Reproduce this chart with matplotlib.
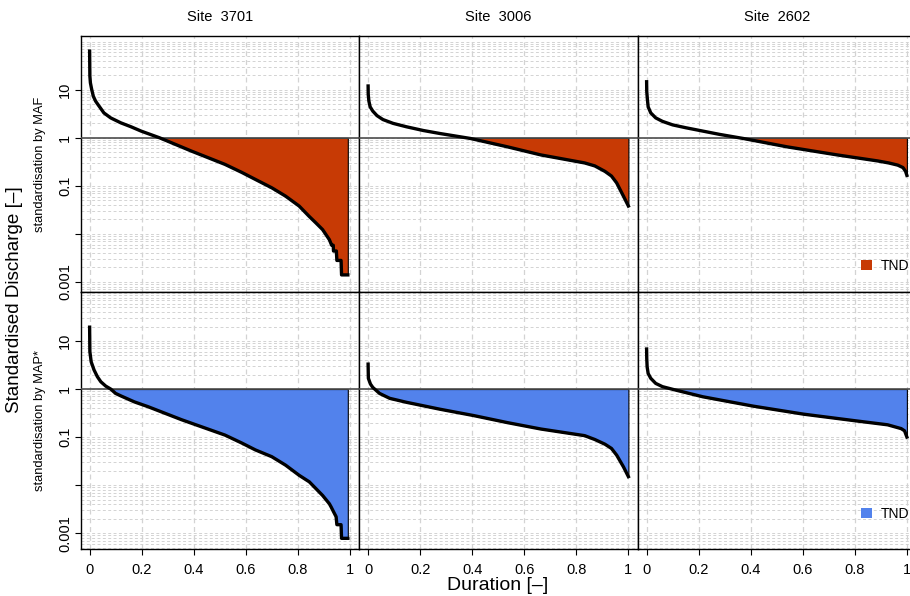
import numpy as np
import matplotlib
matplotlib.use('Agg')
import matplotlib.pyplot as plt
from matplotlib.ticker import LogLocator, FixedLocator, NullFormatter
from matplotlib.patches import Patch

plt.rcParams['font.family'] = ['Liberation Sans', 'DejaVu Sans']

sites = ['3701', '3006', '2602']
row_labels = ['standardisation by MAF', 'standardisation by MAP*']
fill_colors = ['#C73A05', '#5282EC']
legend_label = 'TND'

y_ticks = [0.001, 0.01, 0.1, 1, 10]
y_tick_labels = ['0.001', '', '0.1', '1', '10']
x_ticks = [0, 0.2, 0.4, 0.6, 0.8, 1]
x_tick_labels = ['0', '0.2', '0.4', '0.6', '0.8', '1']

# flow duration curves (duration, standardised discharge)
maf_3701_x = [0, 0.001, 0.003, 0.008, 0.014, 0.023, 0.036, 0.055, 0.081, 0.12, 0.159, 0.198,
              0.269, 0.391, 0.52, 0.585, 0.637, 0.70, 0.753, 0.805, 0.844, 0.869, 0.895,
              0.921, 0.930, 0.936, 0.937, 0.948, 0.950, 0.966, 0.968, 0.992]
maf_3701_y = [64, 19.4, 14, 10.2, 7.4, 5.8, 4.6, 3.3, 2.6, 2.05, 1.7, 1.38,
              1.0, 0.53, 0.28, 0.19, 0.136, 0.091, 0.061, 0.038, 0.023, 0.017, 0.0123,
              0.0076, 0.0058, 0.0058, 0.0044, 0.0044, 0.0028, 0.0028, 0.0014, 0.0014]

maf_3006_x = [0, 0.0005, 0.003, 0.008, 0.018, 0.034, 0.057, 0.096, 0.147, 0.212, 0.276, 0.393,
              0.535, 0.664, 0.832, 0.871, 0.91, 0.935, 0.955, 0.981, 1.0]
maf_3006_y = [12, 8, 5.8, 4.4, 3.6, 2.9, 2.4, 2.0, 1.7, 1.42, 1.23, 0.97,
              0.65, 0.44, 0.30, 0.26, 0.20, 0.16, 0.115, 0.061, 0.038]

maf_2602_x = [0, 0.0005, 0.003, 0.006, 0.016, 0.035, 0.061, 0.1, 0.151, 0.28, 0.371, 0.539,
              0.733, 0.888, 0.93, 0.965, 0.985, 0.995, 1.0]
maf_2602_y = [14.7, 9.4, 6.3, 4.4, 3.3, 2.6, 2.2, 1.86, 1.62, 1.18, 0.97, 0.65,
              0.44, 0.33, 0.30, 0.27, 0.24, 0.20, 0.165]

map_3701_x = [0, 0.0005, 0.001, 0.006, 0.017, 0.03, 0.043, 0.062, 0.081, 0.1, 0.12, 0.172,
              0.224, 0.353, 0.52, 0.585, 0.637, 0.70, 0.753, 0.805, 0.844, 0.869, 0.895,
              0.921, 0.928, 0.937, 0.947, 0.950, 0.966, 0.968, 0.992]
map_3701_y = [19.4, 10.5, 6.0, 3.7, 2.5, 1.8, 1.42, 1.15, 1.0, 0.81, 0.72, 0.54,
              0.43, 0.23, 0.11, 0.075, 0.054, 0.039, 0.026, 0.016, 0.0117, 0.0085, 0.0061,
              0.0041, 0.0035, 0.0028, 0.0022, 0.0015, 0.0015, 0.00078, 0.00078]

map_3006_x = [0, 0.0005, 0.001, 0.009, 0.018, 0.044, 0.083, 0.147, 0.276, 0.406, 0.535, 0.664,
              0.832, 0.871, 0.91, 0.935, 0.955, 0.981, 1.0]
map_3006_y = [3.3, 2.3, 1.67, 1.27, 1.08, 0.81, 0.64, 0.53, 0.38, 0.28, 0.20, 0.147,
              0.107, 0.089, 0.071, 0.058, 0.042, 0.024, 0.015]

map_2602_x = [0, 0.0005, 0.002, 0.006, 0.016, 0.035, 0.061, 0.112, 0.216, 0.41, 0.603, 0.797,
              0.926, 0.978, 0.991, 1.0]
map_2602_y = [6.8, 4.4, 2.9, 2.1, 1.67, 1.31, 1.12, 0.95, 0.69, 0.44, 0.30, 0.22,
              0.18, 0.15, 0.135, 0.10]

curves = [
    [(maf_3701_x, maf_3701_y), (maf_3006_x, maf_3006_y), (maf_2602_x, maf_2602_y)],
    [(map_3701_x, map_3701_y), (map_3006_x, map_3006_y), (map_2602_x, map_2602_y)],
]
row_ylims = [(10 ** -3.21, 10 ** 2.12), (10 ** -3.33, 10 ** 2.02)]

W, H = 910, 596
fig = plt.figure(figsize=(W / 100, H / 100), dpi=100)

lefts = [80.5, 359, 637.5]
panel_w = 278.5
row_top = [36, 292]
row_bottom = [292, 549]

grid_col = '#d3d3d3'

for r in range(2):
    for c in range(3):
        ax = fig.add_axes([lefts[c] / W, 1 - row_bottom[r] / H, panel_w / W,
                           (row_bottom[r] - row_top[r]) / H])
        x = np.array(curves[r][c][0])
        y = np.array(curves[r][c][1])

        ax.set_yscale('log')
        ax.set_xlim(-0.035, 1.035)
        ax.set_ylim(*row_ylims[r])
        ax.set_axisbelow(True)

        ax.yaxis.set_major_locator(FixedLocator(y_ticks))
        ax.yaxis.set_minor_locator(LogLocator(base=10, subs=np.arange(1, 10), numticks=30))
        ax.yaxis.set_minor_formatter(NullFormatter())
        ax.set_yticklabels(y_tick_labels)
        ax.set_xticks(x_ticks)
        ax.set_xticklabels(x_tick_labels)

        ax.grid(True, axis='y', which='both', color=grid_col, linestyle=(0, (3, 2.5)), linewidth=0.7)
        ax.grid(True, axis='x', which='major', color=grid_col, linestyle=(0, (4, 3)), linewidth=0.9)

        ax.fill_between(x, y, 1, where=y <= 1, interpolate=True,
                        facecolor=fill_colors[r], edgecolor='black', linewidth=0.8, zorder=2)
        ax.axhline(1, color='#4d4d4d', linewidth=1.2, zorder=3)
        ax.plot(x, y, color='black', linewidth=2.4, solid_joinstyle='round', zorder=4)

        for s in ax.spines.values():
            s.set_linewidth(1.0)
            s.set_color('black')

        ax.tick_params(axis='y', which='minor', length=0)
        ax.tick_params(axis='both', which='major', direction='out', length=4, width=0.8,
                       labelsize=10.5, colors='black')
        if c == 0:
            ax.tick_params(axis='y', which='major', pad=2)
            for lbl in ax.get_yticklabels():
                lbl.set_rotation(90)
                lbl.set_va('center')
        else:
            ax.tick_params(axis='y', which='major', left=False, labelleft=False)
        if r == 1:
            ax.tick_params(axis='x', which='major', pad=6)
        else:
            ax.tick_params(axis='x', which='major', bottom=False, labelbottom=False)

        if r == 0:
            ax.set_title('Site  ' + sites[c], fontsize=10.5, pad=11)

        if c == 2:
            leg_y = 266 if r == 0 else 514
            ax.legend(handles=[Patch(facecolor=fill_colors[r], edgecolor='none')],
                      labels=[legend_label], loc='center left',
                      bbox_to_anchor=(861 / W, 1 - leg_y / H), bbox_transform=fig.transFigure,
                      frameon=False, fontsize=10, handlelength=0.8, handleheight=0.8,
                      handletextpad=0.6, borderpad=0, borderaxespad=0)

# row labels and shared axis titles
for r in range(2):
    fig.text(40 / W, 1 - (row_top[r] + row_bottom[r]) / 2 / H, row_labels[r],
             rotation=90, ha='center', va='center', fontsize=9.3)
fig.text(15 / W, 1 - 300 / H, 'Standardised Discharge [–]', rotation=90,
         ha='center', va='center', fontsize=13.6)
fig.text(498 / W, 1 - 585 / H, 'Duration [–]', ha='center', va='center', fontsize=14)

fig.savefig('out.png', dpi=100)
